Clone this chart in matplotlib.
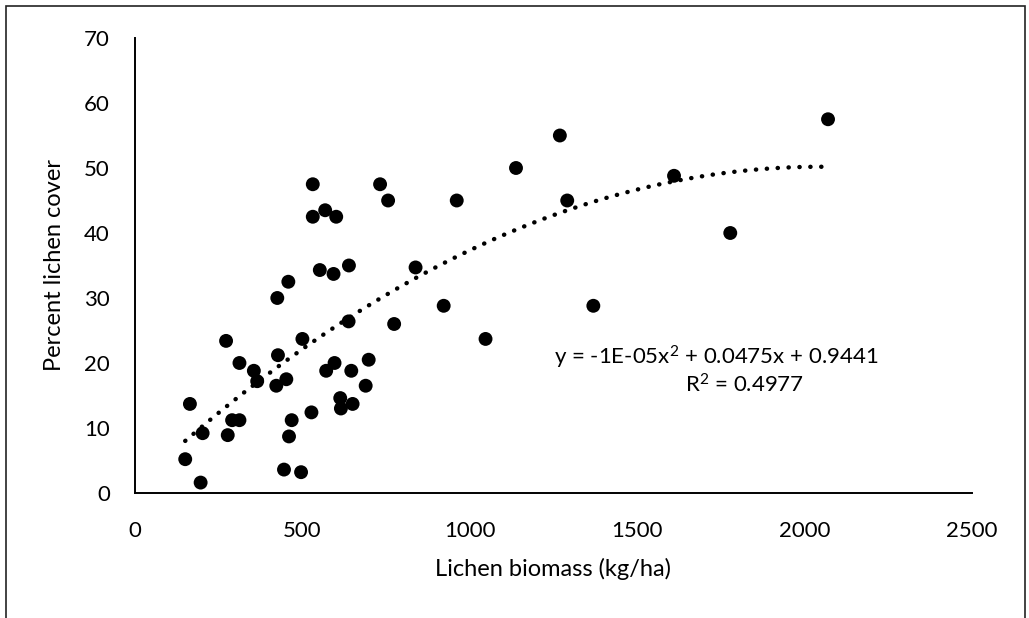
import numpy as np
import matplotlib.pyplot as plt
from matplotlib.patches import Rectangle

# Lichen biomass (kg/ha) vs percent lichen cover
biomass = [150, 164, 196, 202, 272, 277, 290, 312, 312, 355,
           365, 422, 425, 427, 445, 452, 458, 460, 468, 496,
           500, 527, 531, 531, 552, 568, 571, 593, 596, 601,
           613, 615, 638, 639, 646, 650, 689, 698, 732, 756,
           774, 838, 922, 961, 1047, 1138, 1269, 1291, 1369, 1610,
           1778, 2070]
cover = [5.2, 13.7, 1.6, 9.2, 23.4, 8.9, 11.2, 11.2, 20.0, 18.8,
         17.2, 16.5, 30.0, 21.2, 3.6, 17.5, 32.5, 8.7, 11.2, 3.2,
         23.7, 12.4, 47.5, 42.5, 34.3, 43.5, 18.8, 33.7, 20.0, 42.5,
         14.6, 13.0, 26.4, 35.0, 18.8, 13.7, 16.5, 20.5, 47.5, 45.0,
         26.0, 34.7, 28.8, 45.0, 23.7, 50.0, 55.0, 45.0, 28.8, 48.8,
         40.0, 57.5]

x_ticks = [0, 500, 1000, 1500, 2000, 2500]
y_ticks = [0, 10, 20, 30, 40, 50, 60, 70]

eq_text = "y = -1E-05x$^{2}$ + 0.0475x + 0.9441"
r2_text = "R$^{2}$ = 0.4977"

plt.rcParams['font.family'] = ['Lato', 'DejaVu Sans']
plt.rcParams['mathtext.fontset'] = 'custom'
plt.rcParams['mathtext.rm'] = 'Lato'
plt.rcParams['mathtext.default'] = 'rm'

fig = plt.figure(figsize=(10.29, 6.18), dpi=100)
ax = fig.add_axes([0.1312, 0.2023, 0.8134, 0.7362])

x = np.array(biomass, dtype=float)
y = np.array(cover, dtype=float)

# polynomial (order 2) trendline
coef = np.polyfit(x, y, 2)
xs = np.linspace(x.min(), x.max(), 300)
ax.plot(xs, np.polyval(coef, xs), color='black', lw=3.2,
        linestyle=(0, (0.05, 2.4)), dash_capstyle='round', zorder=2)

ax.scatter(x, y, s=100, color='black', edgecolors='none', zorder=3)

ax.set_xlim(0, 2500)
ax.set_ylim(0, 70)
ax.set_xticks(x_ticks)
ax.set_yticks(y_ticks)
ax.tick_params(length=0, labelsize=16, pad=20)
ax.tick_params(axis='y', pad=18)
for s in ['top', 'right']:
    ax.spines[s].set_visible(False)
for s in ['left', 'bottom']:
    ax.spines[s].set_linewidth(1.4)
    ax.spines[s].set_color('black')

ax.set_xlabel("Lichen biomass (kg/ha)", fontsize=17, labelpad=12)
ax.set_ylabel("Percent lichen cover", fontsize=17, labelpad=14)

ax.text(1737, 20.9, eq_text, fontsize=16, ha='center', va='center')
ax.text(1821, 16.6, r2_text, fontsize=16, ha='center', va='center')

# outer chart frame (bottom edge lies outside the image)
fig.patches.append(Rectangle((6 / 1029, -0.05), 1019 / 1029, 1.05 - 6 / 618,
                             transform=fig.transFigure, fill=False,
                             edgecolor='#222222', lw=1.2))

fig.savefig("out.png", dpi=100)
